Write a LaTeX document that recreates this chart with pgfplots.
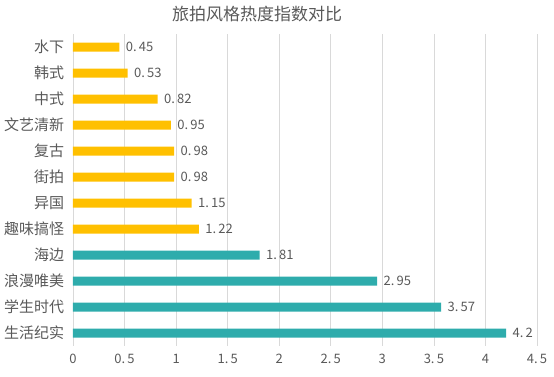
\documentclass[border=0pt]{standalone}
\usepackage{pgfplots}
\pgfplotsset{compat=1.18}
\usepackage{fontspec}
\setmainfont{Noto Sans CJK SC}
\definecolor{gold}{HTML}{FFC000}
\definecolor{teal2}{HTML}{2EACAC}
\definecolor{txt}{HTML}{595959}
\definecolor{gridc}{HTML}{D9D9D9}
\begin{document}
\begin{tikzpicture}
\path[use as bounding box] (-73pt,-30pt) rectangle (481pt,346pt);
\begin{axis}[
  at={(0,0)}, anchor=south west,
  scale only axis, width=464pt, height=312pt,
  xmin=0, xmax=4.5, ymin=-0.5, ymax=11.5,
  y dir=reverse,
  xtick={0,0.5,...,4.5},
  xticklabels={0,0.\,5,1,1.\,5,2,2.\,5,3,3.\,5,4,4.\,5},
  ytick={0,...,11},
  yticklabels={水下,韩式,中式,文艺清新,复古,街拍,异国,趣味搞怪,海边,浪漫唯美,学生时代,生活纪实},
  xmajorgrids, grid style={gridc, line width=0.6pt},
  axis line style={draw=none}, tick style={draw=none},
  yticklabel style={font=\fontsize{15}{17}\selectfont, text=txt, xshift=-1pt},
  xticklabel style={font=\fontsize{13}{15}\selectfont, text=txt, yshift=-5pt},
  xbar, bar width=9pt, bar shift=0pt,
  point meta=explicit symbolic,
  nodes near coords,
  nodes near coords style={font=\fontsize{13}{15}\selectfont, text=txt, anchor=west, xshift=3pt},
  clip=false,
]
\addplot[fill=gold, draw=none] coordinates {(0.45,0) [0.\,45] (0.53,1) [0.\,53] (0.82,2) [0.\,82] (0.95,3) [0.\,95] (0.98,4) [0.\,98] (0.98,5) [0.\,98] (1.15,6) [1.\,15] (1.22,7) [1.\,22]};
\addplot[fill=teal2, draw=none] coordinates {(1.81,8) [1.\,81] (2.95,9) [2.\,95] (3.57,10) [3.\,57] (4.2,11) [4.\,2]};
\end{axis}
\node[font=\fontsize{17}{19}\selectfont, text=txt] at (184pt,332pt) {旅拍风格热度指数对比};
\end{tikzpicture}
\end{document}
